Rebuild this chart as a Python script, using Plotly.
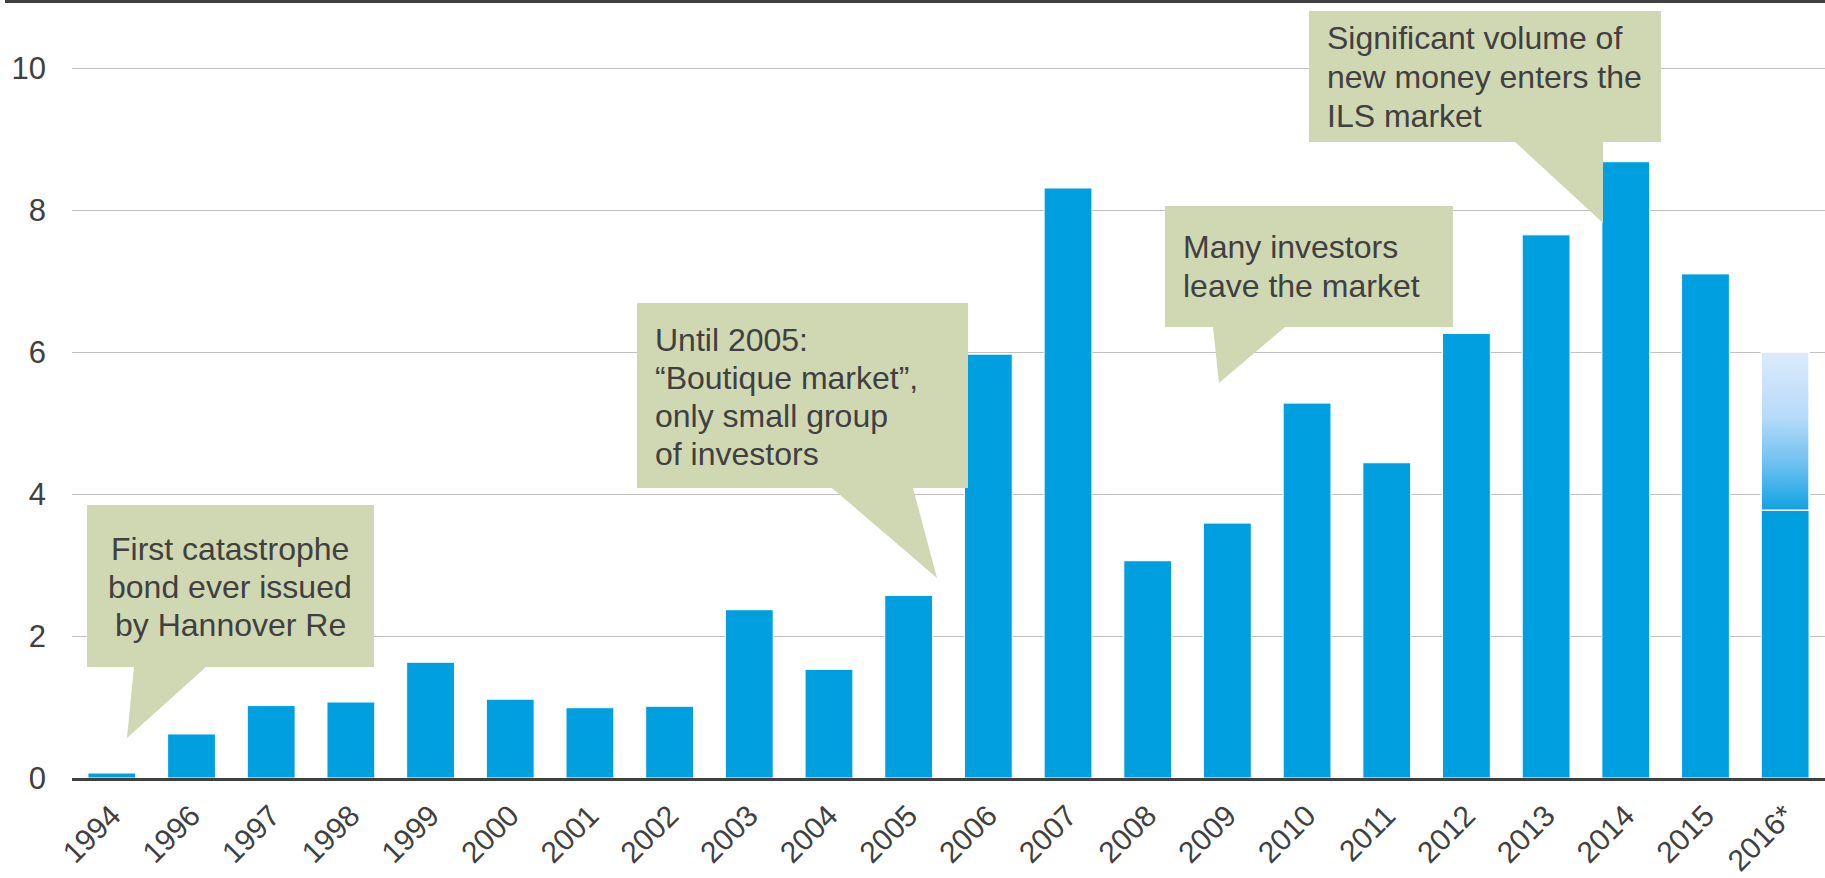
import plotly.graph_objects as go

# ---------------- data ----------------
years = ["1994", "1996", "1997", "1998", "1999", "2000", "2001", "2002", "2003", "2004",
         "2005", "2006", "2007", "2008", "2009", "2010", "2011", "2012", "2013", "2014",
         "2015", "2016*"]
volumes = [0.07, 0.62, 1.02, 1.07, 1.63, 1.11, 0.99, 1.01, 2.37, 1.53,
           2.57, 5.97, 8.31, 3.06, 3.59, 5.28, 4.44, 6.26, 7.65, 8.68,
           7.10, 3.77]
forecast_label = "2016*"
forecast_total = 6.0
y_ticks = [0, 2, 4, 6, 8, 10]

callout_lines = [
    ["First catastrophe", "bond ever issued", "by Hannover Re"],
    ["Until 2005:", "\u201cBoutique market\u201d,", "only small group", "of investors"],
    ["Many investors", "leave the market"],
    ["Significant volume of", "new money enters the", "ILS market"],
]

# ---------------- layout constants ----------------
W, H = 1825, 878
ML, MR, MT, MB = 72, 0, 2, 100
PW, PH = W - ML - MR, H - MT - MB
PX_PER_UNIT = 71.0
Y_MAX = PH / PX_PER_UNIT
BARGAP = 0.4
BLUE = "#009fe0"
TXT = "#404040"
SAGE = "#d0d8b3"
FONT = "Liberation Sans, Arial, sans-serif"
CALLOUT_FS = 32


def px(xp, yp):
    """pixel -> paper coordinates"""
    return (xp - ML) / PW, (H - MB - yp) / PH


xs = list(range(len(years)))

fig = go.Figure()
fig.add_trace(go.Bar(
    x=xs, y=volumes, marker=dict(color=BLUE, line=dict(color="white", width=1)),
    hoverinfo="skip", showlegend=False,
))

# forecast gradient segment on top of the 2016* bar
fi = years.index(forecast_label)
half = (1 - BARGAP) / 2
lo, hi = volumes[fi], forecast_total
fig.add_trace(go.Scatter(
    x=[fi - half, fi + half, fi + half, fi - half, fi - half],
    y=[lo, lo, hi, hi, lo],
    mode="lines", fill="toself",
    line=dict(color="white", width=1.5),
    fillgradient=dict(type="vertical", start=lo, stop=hi,
                      colorscale=[[0, "#10a2e1"], [0.3, "#6fc2f0"],
                                  [0.6, "#b7dbf9"], [1, "#dcebfc"]]),
    hoverinfo="skip", showlegend=False,
))

# ---------------- callouts ----------------
boxes = [
    [(87, 505), (374, 505), (374, 667), (206, 667), (127, 738), (134, 667), (87, 667)],
    [(637, 303), (968, 303), (968, 488), (913, 488), (937, 578), (832, 488), (637, 488)],
    [(1165, 206), (1453, 206), (1453, 327), (1285, 327), (1219, 383), (1213, 327), (1165, 327)],
    [(1309, 11), (1661, 11), (1661, 142), (1603, 142), (1603, 223), (1515, 142), (1309, 142)],
]
text_pos = [  # (x px, first baseline px, line step px, anchor)
    (230, 560, 38, "center"),
    (655, 351, 38, "left"),
    (1183, 258, 39, "left"),
    (1327, 49, 39, "left"),
]
shapes = []
for pts in boxes:
    pp = [px(a, b) for a, b in pts]
    path = "M " + " L ".join(f"{a:.5f},{b:.5f}" for a, b in pp) + " Z"
    shapes.append(dict(type="path", path=path, xref="paper", yref="paper",
                       fillcolor=SAGE, line=dict(width=0), layer="above"))

# top rule
x0, ytop = px(5, 1.5)
shapes.append(dict(type="line", xref="paper", yref="paper", x0=x0, x1=1, y0=ytop, y1=ytop,
                   line=dict(color=TXT, width=3)))

annotations = []
for lines, (tx, base, step, anc) in zip(callout_lines, text_pos):
    for k, line in enumerate(lines):
        ax, ay = px(tx, base + k * step - 0.35 * CALLOUT_FS)
        annotations.append(dict(text=line, x=ax, y=ay, xref="paper", yref="paper",
                                xanchor=anc, yanchor="middle", showarrow=False,
                                borderpad=0, borderwidth=0,
                                font=dict(family=FONT, size=CALLOUT_FS, color=TXT)))

fig.update_layout(
    width=W, height=H,
    margin=dict(l=ML, r=MR, t=MT, b=MB, pad=0, autoexpand=False),
    paper_bgcolor="white", plot_bgcolor="white",
    bargap=BARGAP,
    shapes=shapes, annotations=annotations,
    font=dict(family=FONT, color=TXT),
)
fig.update_xaxes(
    range=[-0.5, len(years) - 0.5], tickmode="array", tickvals=xs, ticktext=years,
    tickangle=-45, tickfont=dict(size=30, color=TXT, family=FONT),
    showgrid=False, zeroline=False, showline=True, linecolor=TXT, linewidth=3,
    ticks="", ticklabelstandoff=5, automargin=False, fixedrange=True,
)
fig.update_yaxes(
    range=[0, Y_MAX], tickmode="array", tickvals=y_ticks,
    tickfont=dict(size=31, color=TXT, family=FONT),
    showgrid=True, gridcolor="#c4c0c2", gridwidth=1.2, zeroline=False, showline=False,
    ticks="", ticklabelstandoff=25, automargin=False, fixedrange=True,
)

fig.write_html("out.html")
